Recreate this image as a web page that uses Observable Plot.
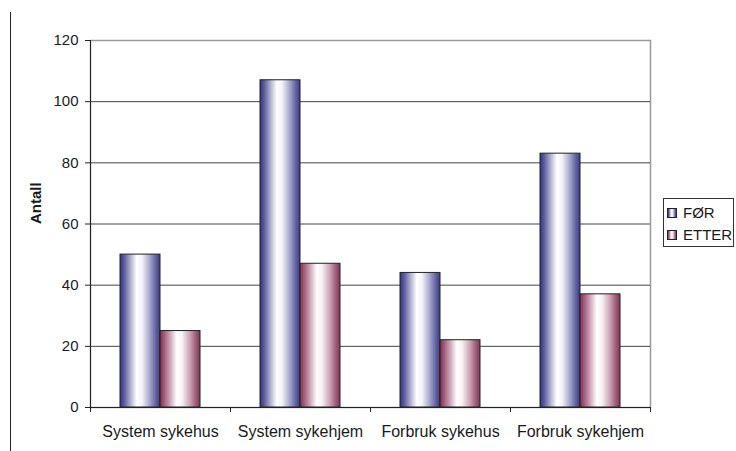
<!DOCTYPE html>
<html>
<head>
<meta charset="utf-8">
<script src="https://cdn.jsdelivr.net/npm/d3@7"></script>
<script src="https://cdn.jsdelivr.net/npm/@observablehq/plot@0.6"></script>
<style>
  body { margin: 0; background: #fff; font-family: "Liberation Sans", Arial, sans-serif; }
  #wrap { position: relative; width: 736px; height: 451px; overflow: hidden; }
  #margin-line { position: absolute; left: 10px; top: 12px; width: 1px; height: 440px; background: #222; }
  #legend {
    position: absolute; left: 663px; top: 198px; width: 71px; height: 49px;
    border: 1px solid #333; background: #fff; box-sizing: border-box;
    font-size: 15px; color: #1a1a1a;
  }
  #legend .item { position: absolute; left: 3px; height: 18px; line-height: 18px; white-space: nowrap; }
  #legend .swatch { display: inline-block; width: 8px; height: 8px; border: 1px solid #222; margin-right: 6px; vertical-align: 0px; }
</style>
</head>
<body>
<div id="wrap">
  <div id="margin-line"></div>
  <div id="chart"></div>
  <div id="legend"></div>
</div>
<script>
// Kategorier og verdier
const kategorier = ["System sykehus", "System sykehjem", "Forbruk sykehus", "Forbruk sykehjem"];
const serier = ["FØR", "ETTER"];
const forVerdier = [50, 107, 44, 83];
const etterVerdier = [25, 47, 22, 37];
const yTicks = [0, 20, 40, 60, 80, 100, 120];

// Gradient stops for the cylinder-like bar shading
const gradFor = [[0, "#34347e"], [0.1, "#5a5a9c"], [0.25, "#a9a9cd"], [0.42, "#ffffff"], [0.55, "#f3f3f9"], [0.75, "#a3a3c9"], [0.9, "#5f61a0"], [1, "#3b3d87"]];
const gradEtter = [[0, "#7e2e50"], [0.1, "#a05a78"], [0.25, "#cda3b6"], [0.42, "#ffffff"], [0.55, "#f8f0f4"], [0.75, "#caa2b3"], [0.9, "#9d5b77"], [1, "#853858"]];

const barFraction = 2 / 7; // width of one bar relative to a category band

const rows = kategorier.flatMap((k, i) => [
  {kategori: k, serie: serier[0], antall: forVerdier[i], x1: i + 0.5 - barFraction, x2: i + 0.5},
  {kategori: k, serie: serier[1], antall: etterVerdier[i], x1: i + 0.5, x2: i + 0.5 + barFraction}
]);

const chart = Plot.plot({
  width: 736,
  height: 451,
  marginLeft: 90,
  marginRight: 86,
  marginTop: 40,
  marginBottom: 44,
  style: {fontFamily: "'Liberation Sans', Arial, sans-serif", fontSize: "15px", color: "#1a1a1a", background: "transparent"},
  x: {domain: [0, kategorier.length]},
  y: {domain: [0, 120]},
  marks: [
    Plot.frame({stroke: "#9a9a9a", strokeWidth: 1.5}),
    Plot.ruleY(yTicks.filter(t => t > 0 && t < 120), {stroke: "#444"}),
    Plot.rectY(rows.filter(d => d.serie === serier[0]), {x1: "x1", x2: "x2", y: "antall", fill: "url(#grad-for)", stroke: "#222", strokeWidth: 1}),
    Plot.rectY(rows.filter(d => d.serie === serier[1]), {x1: "x1", x2: "x2", y: "antall", fill: "url(#grad-etter)", stroke: "#222", strokeWidth: 1}),
    Plot.ruleY([0], {stroke: "#222"}),
    Plot.ruleX([0], {stroke: "#222"}),
    Plot.axisY({ticks: yTicks, tickSize: 5, tickPadding: 7, label: null, stroke: "#222"}),
    Plot.axisX({ticks: d3.range(kategorier.length + 1), tickSize: 5, tickFormat: () => "", label: null, stroke: "#222"}),
    Plot.axisX({ticks: kategorier.map((_, i) => i + 0.5), tickSize: 0, tickPadding: 18, tickFormat: v => kategorier[Math.floor(v)], label: null, fontSize: 16}),
    Plot.text(["Antall"], {frameAnchor: "left", rotate: -90, dx: -54, fontWeight: "bold", fontSize: 15})
  ]
});

// Horizontal gradients used as bar fills
const defs = d3.select(chart).insert("defs", ":first-child");
for (const [id, stops] of [["grad-for", gradFor], ["grad-etter", gradEtter]]) {
  const g = defs.append("linearGradient").attr("id", id).attr("x1", "0").attr("x2", "1").attr("y1", "0").attr("y2", "0");
  for (const [o, c] of stops) g.append("stop").attr("offset", o).attr("stop-color", c);
}

document.getElementById("chart").appendChild(chart);

// Legend
const css = stops => `linear-gradient(to right, ${stops.map(([o, c]) => `${c} ${o * 100}%`).join(", ")})`;
const legend = document.getElementById("legend");
serier.forEach((s, i) => {
  const item = document.createElement("div");
  item.className = "item";
  item.style.top = (5 + i * 22) + "px";
  const sw = document.createElement("span");
  sw.className = "swatch";
  sw.style.background = css(i === 0 ? gradFor : gradEtter);
  item.appendChild(sw);
  item.appendChild(document.createTextNode(s));
  legend.appendChild(item);
});
</script>
</body>
</html>
